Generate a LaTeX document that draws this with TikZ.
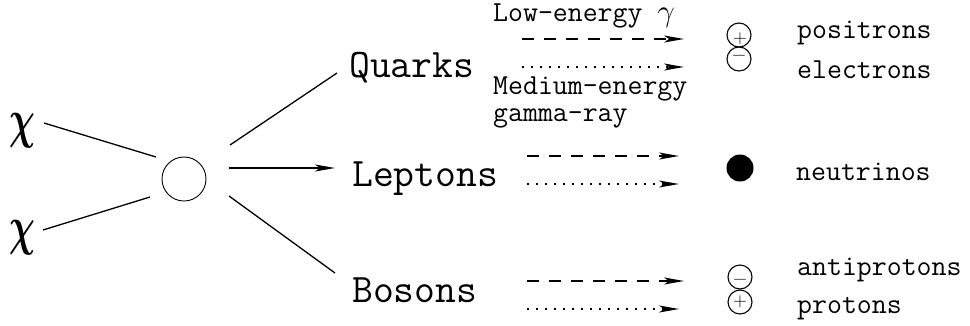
\documentclass[tikz,border=0pt]{standalone}
\usepackage{fontspec}
\usetikzlibrary{arrows.meta}
\tikzset{
  big/.style={font=\fontsize{40.5}{40.5}\selectfont\ttfamily, inner sep=0pt, anchor=base west},
  small/.style={font=\fontsize{29}{29}\selectfont\ttfamily, inner sep=0pt, anchor=base west},
  chisym/.style={inner sep=0pt},
  leg/.style={line width=1.3pt},
  tip/.style={-{Stealth[length=20pt,width=7pt,inset=5pt]}},
  photon/.style={tip, line width=1.6pt, dash pattern=on 12pt off 10pt},
  dots/.style={tip, line width=1.4pt, dash pattern=on 1.5pt off 7.5pt},
  charge/.style={circle, draw, line width=1.1pt, minimum size=24pt, inner sep=0pt},
  sign/.style={font=\fontsize{19}{19}\selectfont\sffamily, inner sep=0pt}
}
\newcommand{\bigchi}{\scalebox{3.6}[5.4]{\boldmath$\chi$}}
\newcommand{\photonsym}{\scalebox{1.25}{$\gamma$}}
\begin{document}
\begin{tikzpicture}[x=1pt,y=-1pt]
\useasboundingbox (0,0) rectangle (970,325);

% incoming particles and the annihilation vertex
\node[chisym] (chi1) at (22,131) {\bigchi};
\node[chisym] (chi2) at (22,238) {\bigchi};
\node[circle, draw, line width=0.9pt, minimum size=44pt, inner sep=0pt] (vtx) at (184,179) {};

\coordinate (in1a) at (44,123);  \coordinate (in1b) at (156,157);
\coordinate (in2a) at (43,230);  \coordinate (in2b) at (150,197);
\draw[leg] (in1a) -- (in1b);
\draw[leg] (in2a) -- (in2b);

% the three decay channels
\node[big] (quarks)  at (349,77)  {Quarks};
\node[big] (leptons) at (352,186) {Leptons};
\node[big] (bosons)  at (352,302) {Bosons};

\coordinate (outQa) at (230,145); \coordinate (outQb) at (337,73);
\coordinate (outLa) at (229,168); \coordinate (outLb) at (335,168);
\coordinate (outBa) at (229,196); \coordinate (outBb) at (335,273);
\draw[leg] (outQa) -- (outQb);
\draw[leg, tip] (outLa) -- (outLb);
\draw[leg] (outBa) -- (outBb);

% secondary radiation
\node[small] (lowE) at (493,21) {Low-energy \photonsym};
\node[small] (medE) at (493,94) {Medium-energy};
\node[small] (gray) at (493,121) {gamma-ray};

\coordinate (qd0) at (522,39);  \coordinate (qd1) at (684,39);
\coordinate (qt0) at (522,67);  \coordinate (qt1) at (684,67);
\coordinate (ld0) at (527,156); \coordinate (ld1) at (679,156);
\coordinate (lt0) at (527,184); \coordinate (lt1) at (679,184);
\coordinate (bd0) at (527,281); \coordinate (bd1) at (684,281);
\coordinate (bt0) at (527,309); \coordinate (bt1) at (679,309);
\draw[photon] (qd0) -- (qd1);
\draw[dots]   (qt0) -- (qt1);
\draw[photon] (ld0) -- (ld1);
\draw[dots]   (lt0) -- (lt1);
\draw[photon] (bd0) -- (bd1);
\draw[dots]   (bt0) -- (bt1);

% final-state particles
\node[charge] (posC) at (739,35) {};
\node[sign] at (740,39) {+};
\node[charge] (eleC) at (739,59) {};
\node[sign] at (739,58) {−};
\node[circle, fill, minimum size=27pt, inner sep=0pt] (nuC) at (740,168) {};
\node[charge] (pbarC) at (740,277) {};
\node[sign] at (740,282) {−};
\node[charge] (pC) at (740,302) {};
\node[sign] at (740,302) {+};

\node[small] (posT)  at (797,38)  {positrons};
\node[small] (eleT)  at (797,78)  {electrons};
\node[small] (nuT)   at (796,180) {neutrinos};
\node[small] (pbarT) at (797,275) {antiprotons};
\node[small] (pT)    at (797,313) {protons};
\end{tikzpicture}
\end{document}
